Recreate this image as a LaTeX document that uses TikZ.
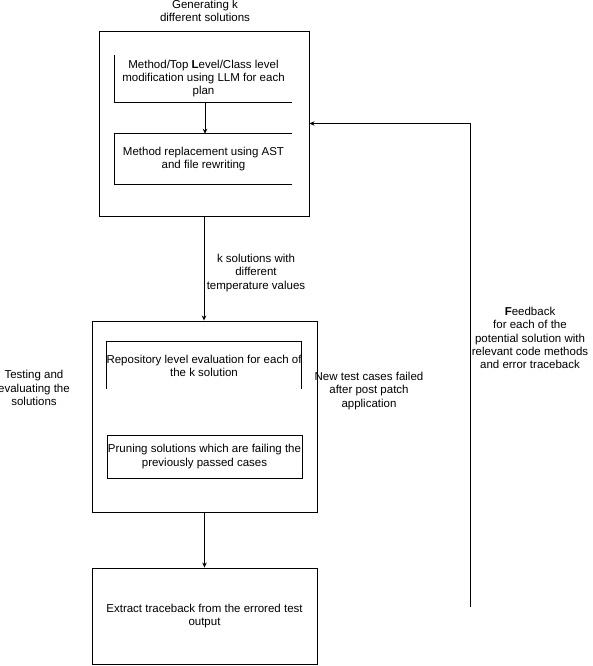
\documentclass[tikz,border=0pt]{standalone}
\usepackage{fontspec}
\setmainfont{Liberation Sans}
\usetikzlibrary{arrows.meta}

\begin{document}
\begin{tikzpicture}[x=1pt,y=-1pt,
		every node/.style={font=\fontsize{11.5}{13.2}\selectfont, align=center, inner sep=0pt},
		frame/.style={draw, line width=0.9pt},
		part/.style={line width=0.9pt},
		flow/.style={line width=0.9pt, -{Stealth[length=5pt,width=4.5pt,inset=1.5pt]}}]
				\useasboundingbox (0,0) rectangle (592,666);
				
				\node[frame, minimum width=210pt, minimum height=185pt] (gen) at (204,123.5) {};
				\node at (205,11) (genlbl) {Generating k\\different solutions};
				
				\node[minimum width=177pt, minimum height=47pt] (plan) at (203.5,78.5) {Method/Top \textbf{L}evel/Class level\\modification using LLM for each\\plan};
				\draw[part] (plan.north west) -- (plan.south west) -- (plan.south east);
				
				\node[minimum width=177pt, minimum height=50pt] (repl) at (203.5,159) {Method replacement using AST\\and file rewriting};
				\draw[part] (repl.north east) -- (repl.north west) -- (repl.south west) -- (repl.south east);
				\draw[flow] (plan.south -| 205,0) -- (repl.north -| 205,0);
				
				\node[frame, minimum width=225pt, minimum height=191pt] (test) at (204.5,416.5) {};
				\node at (34,388) (testlbl) {Testing and\\evaluating the\\solutions};
				\draw[flow] (gen.south) -- (test.north -| gen.south);
				\node at (256,273) (klbl) {k solutions with\\different\\temperature values};
				
				\node[minimum width=194pt, minimum height=47pt] (repo) at (204,365.5) {Repository level evaluation for each of\\the k solution};
				\draw[part] (repo.south west) -- (repo.north west) -- (repo.north east) -- (repo.south east);
				
				\node[frame, minimum width=195pt, minimum height=43pt] (prune) at (204.5,456.5) {Pruning solutions which are failing the\\previously passed cases};
				
				\node[frame, minimum width=225pt, minimum height=96pt] (trace) at (204.5,616) {Extract traceback from the errored test\\output};
				\draw[flow] (test.south) -- (trace.north);
				\node at (369,391) (faillbl) {New test cases failed\\after post patch\\application};
				
				\coordinate (fbstart) at (470,607);
				\draw[flow] (fbstart) |- (gen.east);
				\node at (530,338) (fblbl) {\textbf{F}eedback\\for each of the\\potential solution with\\relevant code methods\\and error traceback};
			\end{tikzpicture}
\end{document}
